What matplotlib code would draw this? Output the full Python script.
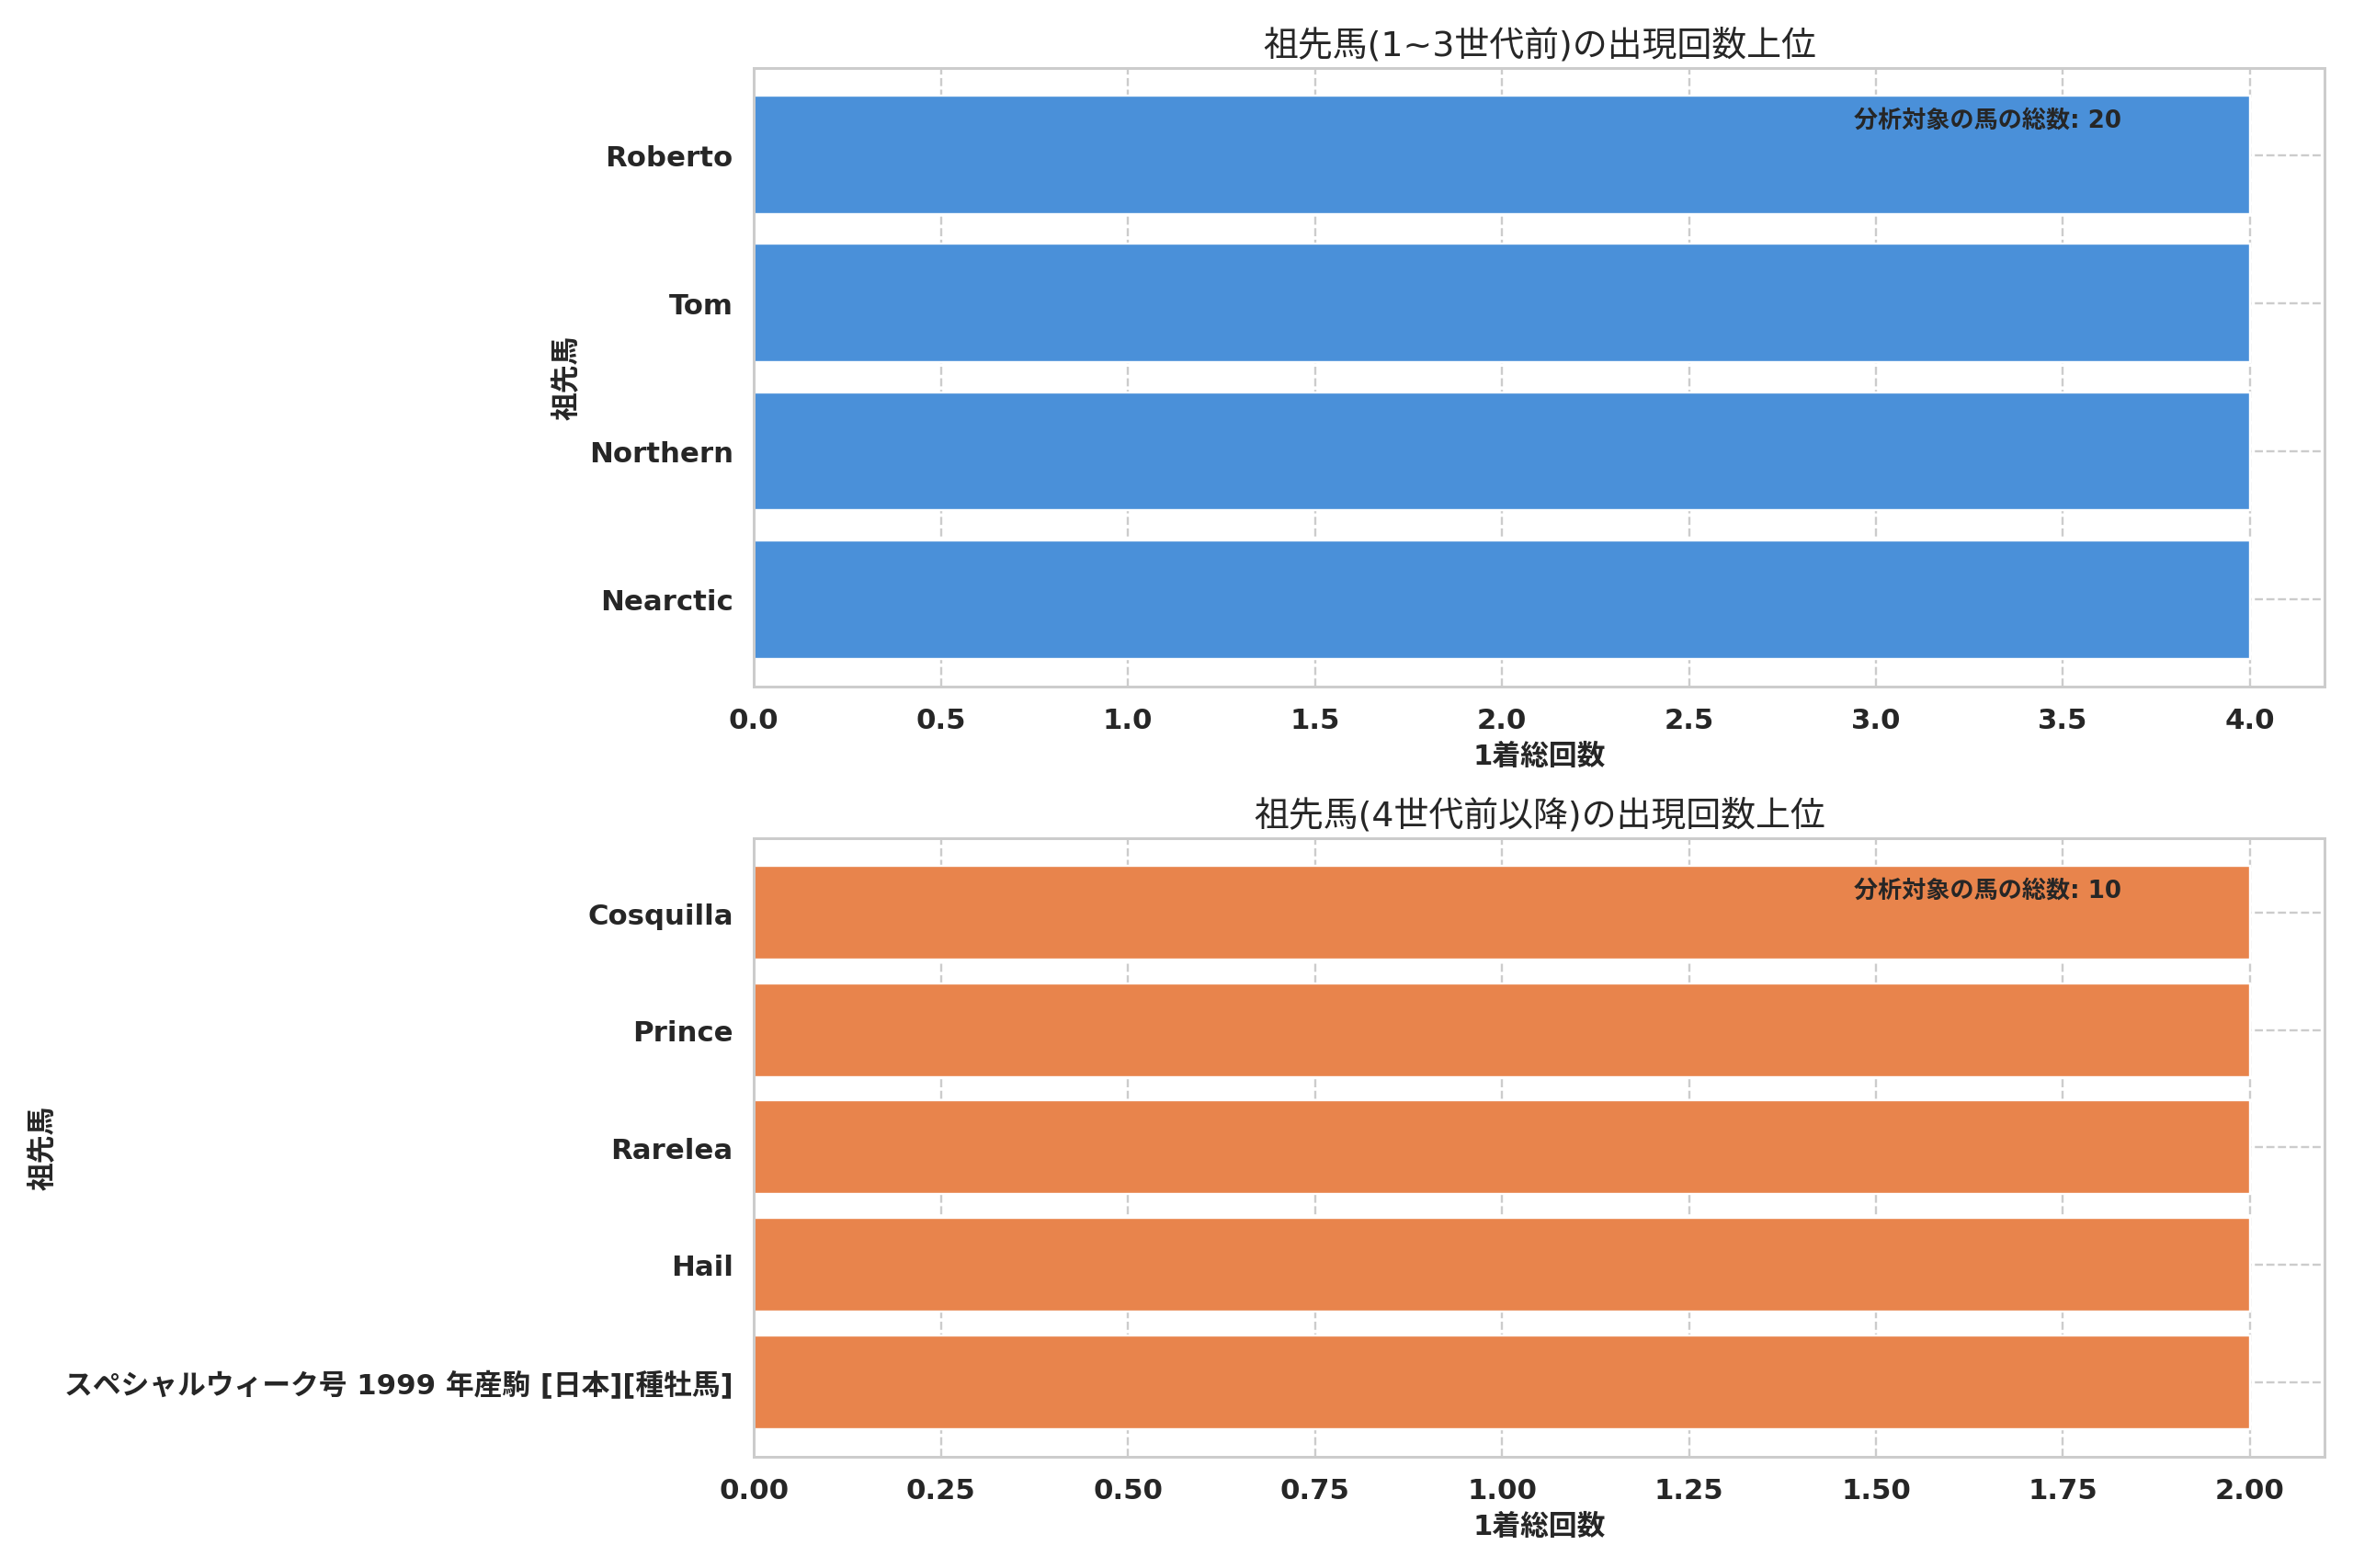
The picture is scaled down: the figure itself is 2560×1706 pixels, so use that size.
import matplotlib
matplotlib.use('Agg')
import matplotlib.pyplot as plt
import seaborn as sns

# --- data (top-to-bottom order as drawn) ---
upper_names = ['Roberto', 'Tom', 'Northern', 'Nearctic']
upper_counts = [4, 4, 4, 4]
upper_total = 20

lower_names = ['Cosquilla', 'Prince', 'Rarelea', 'Hail',
               'スペシャルウィーク号 1999 年産駒 [日本][種牡馬]']
lower_counts = [2, 2, 2, 2, 2]
lower_total = 10

upper_title = '祖先馬(1~3世代前)の出現回数上位'
lower_title = '祖先馬(4世代前以降)の出現回数上位'
y_label = '祖先馬'
x_label = '1着総回数'
total_label = '分析対象の馬の総数'

sns.set_theme(style='whitegrid')
plt.rcParams['font.family'] = ['DejaVu Sans', 'Noto Sans CJK JP']
plt.rcParams.update({
    'grid.linestyle': '--',
    'grid.color': '#cccccc',
    'axes.edgecolor': '#cccccc',
})

fig, axes = plt.subplots(2, 1, figsize=(15, 10), dpi=170.67)

panels = [
    (axes[0], upper_names, upper_counts, upper_total, upper_title, '#4a90d9'),
    (axes[1], lower_names, lower_counts, lower_total, lower_title, '#e8844c'),
]

for ax, names, counts, total, title, color in panels:
    ax.barh(names, counts, color=color, edgecolor='white', height=0.8)
    ax.invert_yaxis()
    ax.set_title(title, fontsize=16)
    ax.set_xlabel(x_label, fontsize=13, fontweight='bold')
    ax.set_ylabel(y_label, fontsize=13, fontweight='bold')
    for lab in ax.get_xticklabels() + ax.get_yticklabels():
        lab.set_fontweight('bold')
        lab.set_fontsize(13)
    ax.text(0.70, 0.935, f'{total_label}: {total}', transform=ax.transAxes,
            ha='left', va='top', fontsize=11, fontweight='bold')

plt.tight_layout()
plt.savefig('out.png', dpi=170.67)
plt.close()
